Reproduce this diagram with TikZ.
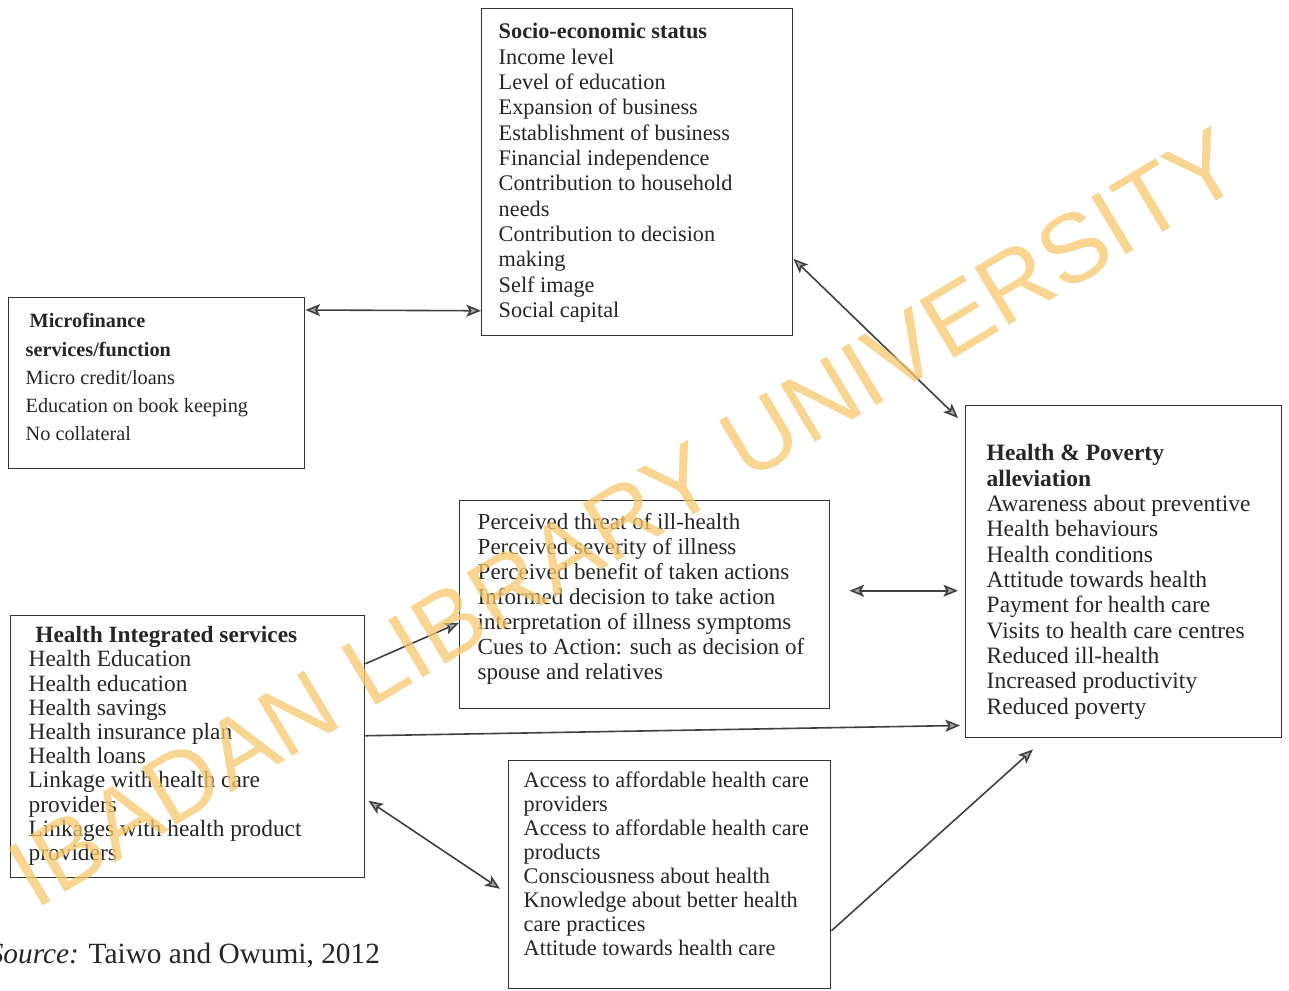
\documentclass[tikz,border=0pt]{standalone}
\usepackage{fontspec}
\setmainfont{Liberation Serif}
\newfontfamily\wmfont{Liberation Sans}
\usetikzlibrary{arrows.meta}
\definecolor{ink}{RGB}{38,38,38}
\definecolor{wmcol}{RGB}{248,200,110}
\newcommand\boxtext[6]{\parbox[t][#1][t]{#2}{\fontsize{#3}{#4}\selectfont\vspace*{#5}\strut #6}}
\tikzset{
  box/.style={draw=black!80, line width=1.1pt, anchor=north west, inner ysep=0pt, text=ink, align=left},
  con/.style={draw=black!75, line width=1.2pt},
  >={Stealth[length=11pt,width=9pt,inset=2.5pt,fill=black!35]},
  wm/.style={text=wmcol, opacity=0.75, font=\wmfont\fontsize{73pt}{73pt}\selectfont, inner sep=0pt}
}
\begin{document}
\begin{tikzpicture}[x=0.75pt,y=-0.75pt]
\useasboundingbox (0,0) rectangle (1289,990);
\fill[white] (0,0) rectangle (1289,990);

\node[box, inner xsep=12.75pt] (socio) at (481,8) {\boxtext{245.25pt}{207.75pt}{16.7pt}{19pt}{9.2pt}{%
\textbf{Socio-economic status}\\
Income level\\
Level of education\\
Expansion of business\\
Establishment of business\\
Financial independence\\
Contribution to household\\
needs\\
Contribution to decision\\
making\\
Self image\\
Social capital}};

\node[box, inner xsep=12.75pt] (micro) at (8,297) {\boxtext{128.25pt}{196.5pt}{15.2pt}{21.2pt}{7.7pt}{%
\hspace*{3pt}\textbf{Microfinance}\\
\textbf{services/function}\\
Micro credit/loans\\
Education on book keeping\\
No collateral}};

\node[box, inner xsep=13.5pt] (hi) at (10,615) {\boxtext{196.5pt}{238.5pt}{17.5pt}{18.15pt}{7.5pt}{%
\hspace*{5pt}\textbf{Health Integrated services}\\
Health Education\\
Health education\\
Health savings\\
Health insurance plan\\
Health loans\\
Linkage with health care\\
providers\\
Linkages with health product\\
providers}};

\node[box, inner xsep=13.5pt] (perc) at (459,500) {\boxtext{156pt}{250.5pt}{17.25pt}{18.75pt}{8.6pt}{%
Perceived threat of ill-health\\
Perceived severity of illness\\
Perceived benefit of taken actions\\
Informed decision to take action\\
interpretation of illness symptoms\\
Cues to Action: such as decision of\\
spouse and relatives}};

\node[box, inner xsep=15.75pt] (hp) at (965,405) {\boxtext{249pt}{205.5pt}{17.6pt}{19pt}{27.9pt}{%
\textbf{Health \& Poverty}\\
\textbf{alleviation}\\
Awareness about preventive\\
Health behaviours\\
Health conditions\\
Attitude towards health\\
Payment for health care\\
Visits to health care centres\\
Reduced ill-health\\
Increased productivity\\
Reduced poverty}};

\node[box, inner xsep=11.25pt] (acc) at (508,760) {\boxtext{171pt}{219pt}{16.7pt}{18pt}{7.65pt}{%
Access to affordable health care\\
providers\\
Access to affordable health care\\
products\\
Consciousness about health\\
Knowledge about better health\\
care practices\\
Attitude towards health care}};

\node[anchor=base west, inner sep=0pt, text=ink] (src) at (-11.5,963) {\fontsize{22pt}{26pt}\selectfont\textit{Source:} Taiwo and Owumi, 2012};

% connectors
\draw[con,<->] ([yshift=-9.75pt]micro.north east) -- ([yshift=-103.9pt]socio.west);
\draw[con,<->] ([yshift=-64.9pt]socio.east) -- ([xshift=-5.25pt,yshift=-9.75pt]hp.north west);
\draw[con,->] ([yshift=62.25pt]hi.east) -- ([yshift=-13.5pt]perc.west);
\draw[con,<->] ([xshift=14.25pt,yshift=10.5pt]perc.east) -- ([xshift=-5.25pt,yshift=-14.25pt]hp.west);
\draw[con,->] ([yshift=8.25pt]hi.east) -- ([xshift=-3.75pt,yshift=9.75pt]hp.south west);
\draw[con,<->] ([xshift=2.25pt,yshift=-40.5pt]hi.east) -- ([xshift=-6pt,yshift=-10.5pt]acc.west);
\draw[con,->] ([yshift=-42pt]acc.east) -- ([xshift=51pt,yshift=-8.25pt]hp.south west);

% watermark
\node[wm, rotate=31, anchor=base] (wmark) at (642,546) {IBADAN LIBRARY UNIVERSITY};
\end{tikzpicture}
\end{document}
